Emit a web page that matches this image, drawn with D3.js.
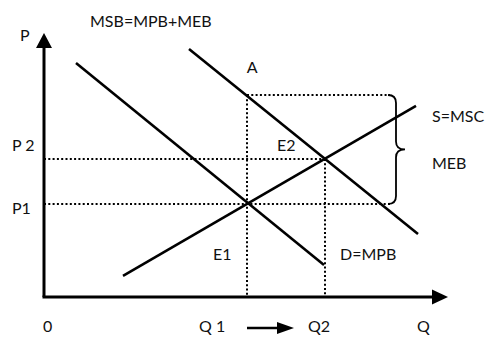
<!DOCTYPE html>
<html>
<head>
<meta charset="utf-8">
<script src="https://cdn.jsdelivr.net/npm/d3@7"></script>
<style>
  body { margin: 0; background: #fff; }
  svg text { font-family: Lato, "Open Sans", sans-serif; font-size: 16px; fill: #111; }
</style>
</head>
<body>
<svg id="chart" width="486" height="340"></svg>
<script>
// curves: [q, p] endpoints in chart units
const mpbLine = [[8, 90], [70, 12.3]];
const msbLine = [[36.25, 95.4], [93.5, 24.2]];
const supplyLine = [[19.75, 8.1], [93, 73.5]];

// equilibrium / reference levels
const q1 = 50.75, q2 = 70.25;
const p1 = 35.8, p2 = 53.1, pA = 77.7;
const braceQ = 88;

const labels = [
  { text: "MSB=MPB+MEB", q: 11.5, p: 103.8 },
  { text: "P", q: -6, p: 98.5 },
  { text: "A", q: 50.7, p: 86.2 },
  { text: "S=MSC", q: 97, p: 67.3 },
  { text: "MEB", q: 97, p: 49.2 },
  { text: "E2", q: 58.25, p: 56.2 },
  { text: "P 2", q: -8, p: 56.2 },
  { text: "P1", q: -8, p: 32 },
  { text: "E1", q: 42.25, p: 14.2 },
  { text: "D=MPB", q: 74, p: 14.2 },
  { text: "0", q: -0.25, p: -13.5 },
  { text: "Q 1", q: 38.75, p: -13.5 },
  { text: "Q2", q: 66, p: -13.5 },
  { text: "Q", q: 93.25, p: -13.5 }
];

const svg = d3.select('#chart');
const x = d3.scaleLinear().domain([0, 100]).range([44, 444]);
const y = d3.scaleLinear().domain([0, 100]).range([297, 37]);

const line = d3.line().x(d => x(d[0])).y(d => y(d[1]));

// dotted guides
const dotted = [
  [[0, p2], [q2, p2]],
  [[0, p1], [braceQ - 1.5, p1]],
  [[q1, pA], [braceQ - 1.5, pA]],
  [[q1, pA], [q1, 0]],
  [[q2, p2], [q2, 0]]
];
svg.selectAll('path.dot')
  .data(dotted)
  .enter().append('path')
  .attr('class', 'dot')
  .attr('d', line)
  .attr('fill', 'none')
  .attr('stroke', '#000')
  .attr('stroke-width', 2)
  .attr('stroke-dasharray', '2,2.3');

// curly brace for MEB
let bx = x(braceQ), bTop = y(pA), bBot = y(p1), bMid = (bTop + bBot) / 2;
let brace = d3.path();
brace.moveTo(bx - 8, bTop);
brace.quadraticCurveTo(bx, bTop, bx, bTop + 8);
brace.lineTo(bx, bMid - 8);
brace.quadraticCurveTo(bx, bMid, bx + 9, bMid);
brace.quadraticCurveTo(bx, bMid, bx, bMid + 8);
brace.lineTo(bx, bBot - 8);
brace.quadraticCurveTo(bx, bBot, bx - 8, bBot);
svg.append('path')
  .attr('d', brace.toString())
  .attr('fill', 'none')
  .attr('stroke', '#000')
  .attr('stroke-width', 1.8);

// demand, social benefit, supply
svg.selectAll('path.curve')
  .data([mpbLine, msbLine, supplyLine])
  .enter().append('path')
  .attr('class', 'curve')
  .attr('d', line)
  .attr('stroke', '#000')
  .attr('stroke-width', 2.6);

// axes
svg.append('line')
  .attr('x1', x(0)).attr('y1', y(0))
  .attr('x2', x(0)).attr('y2', y(96))
  .attr('stroke', '#000').attr('stroke-width', 3);
svg.append('line')
  .attr('x1', x(0) - 1.5).attr('y1', y(0))
  .attr('x2', x(98)).attr('y2', y(0))
  .attr('stroke', '#000').attr('stroke-width', 3);

let yHead = d3.path();
yHead.moveTo(x(0), 33);
yHead.lineTo(x(0) - 8, 48);
yHead.lineTo(x(0) + 8, 48);
yHead.closePath();
svg.append('path').attr('d', yHead.toString()).attr('fill', '#000');

let xHead = d3.path();
xHead.moveTo(448, y(0));
xHead.lineTo(432, y(0) - 7.5);
xHead.lineTo(432, y(0) + 7.5);
xHead.closePath();
svg.append('path').attr('d', xHead.toString()).attr('fill', '#000');

// shift arrow Q1 -> Q2
svg.append('line')
  .attr('x1', x(q1)).attr('y1', 328)
  .attr('x2', 280).attr('y2', 328)
  .attr('stroke', '#000').attr('stroke-width', 2.5);
let shiftHead = d3.path();
shiftHead.moveTo(294, 328);
shiftHead.lineTo(277, 322);
shiftHead.lineTo(277, 334);
shiftHead.closePath();
svg.append('path').attr('d', shiftHead.toString()).attr('fill', '#000');

svg.selectAll('text')
  .data(labels)
  .enter().append('text')
  .attr('x', d => x(d.q))
  .attr('y', d => y(d.p))
  .text(d => d.text);
</script>
</body>
</html>
